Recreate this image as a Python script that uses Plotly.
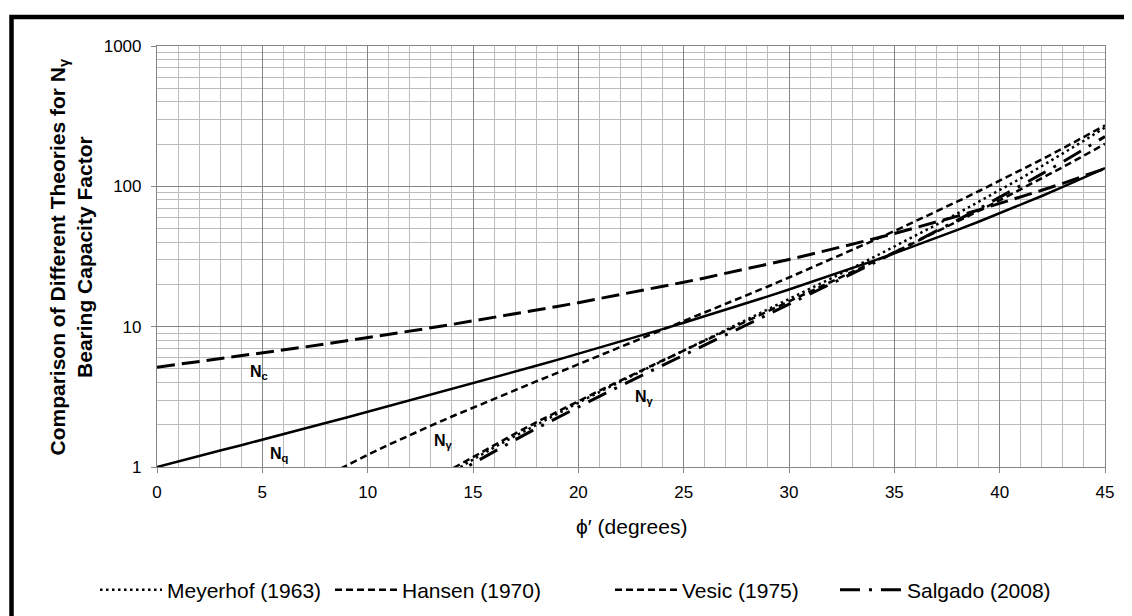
import plotly.graph_objects as go

# friction angle (degrees)
phi = list(range(0, 46))

# bearing capacity factors
Nc = [5.14, 5.38, 5.63, 5.90, 6.19, 6.49, 6.81, 7.16, 7.53, 7.92,
      8.35, 8.80, 9.28, 9.81, 10.37, 10.98, 11.63, 12.34, 13.10, 13.93,
      14.83, 15.82, 16.88, 18.05, 19.32, 20.72, 22.25, 23.94, 25.80, 27.86,
      30.14, 32.67, 35.49, 38.64, 42.16, 46.12, 50.59, 55.63, 61.35, 67.87,
      75.31, 83.86, 93.71, 105.11, 118.37, 133.88]
Nq = [1.00, 1.09, 1.20, 1.31, 1.43, 1.57, 1.72, 1.88, 2.06, 2.25,
      2.47, 2.71, 2.97, 3.26, 3.59, 3.94, 4.34, 4.77, 5.26, 5.80,
      6.40, 7.07, 7.82, 8.66, 9.60, 10.66, 11.85, 13.20, 14.72, 16.44,
      18.40, 20.63, 23.18, 26.09, 29.44, 33.30, 37.75, 42.92, 48.93, 55.96,
      64.20, 73.90, 85.38, 99.02, 115.31, 134.88]

phi_meyerhof = list(range(12, 46))
Ng_meyerhof = [0.59, 0.74, 0.92, 1.13, 1.38, 1.66, 2.00, 2.40, 2.87, 3.42,
               4.07, 4.82, 5.71, 6.76, 8.00, 9.46, 11.19, 13.23, 15.67, 18.56,
               22.02, 26.16, 31.15, 37.16, 44.42, 53.27, 64.07, 77.33, 93.70, 114.0,
               139.3, 171.2, 211.4, 262.7]

phi_hansen = list(range(11, 46))
Ng_hansen = [0.50, 0.63, 0.78, 0.97, 1.18, 1.43, 1.73, 2.08, 2.48, 2.95,
             3.50, 4.13, 4.88, 5.74, 6.76, 7.94, 9.32, 10.94, 12.84, 15.07,
             17.69, 20.79, 24.44, 28.77, 33.92, 40.05, 47.38, 56.17, 66.76, 79.54,
             95.05, 113.96, 137.1, 165.6, 200.8]

phi_vesic = list(range(6, 46))
Ng_vesic = [0.57, 0.71, 0.86, 1.03, 1.22, 1.44, 1.69, 1.97, 2.29, 2.65,
            3.06, 3.53, 4.07, 4.68, 5.39, 6.20, 7.13, 8.20, 9.44, 10.88,
            12.54, 14.47, 16.72, 19.34, 22.40, 25.99, 30.22, 35.19, 41.06, 48.03,
            56.31, 66.19, 78.03, 92.25, 109.41, 130.22, 155.55, 186.54, 224.64, 271.76]

phi_salgado = list(range(12, 46))
Ng_salgado = [0.56, 0.70, 0.87, 1.06, 1.29, 1.56, 1.88, 2.25, 2.68, 3.19,
              3.79, 4.49, 5.31, 6.27, 7.41, 8.75, 10.32, 12.19, 14.40, 17.02,
              20.14, 23.86, 28.32, 33.68, 40.13, 47.96, 57.45, 69.07, 83.36, 100.8,
              122.6, 149.6, 183.5, 226.4]

FONT = "Liberation Sans, Arial, sans-serif"

# page offset of the figure (browser body margin)
OFF = 8
W, H = 1132, 616
L, T = 157 - OFF, 46 - OFF
R = W - (1105 - OFF)
B = H - (467 - OFF)
pw, ph = W - L - R, H - T - B


def px_x(p):
    return (p - OFF - L) / pw


def px_y(p):
    return (H - B - (p - OFF)) / ph


fig = go.Figure()
fig.add_trace(go.Scatter(x=phi, y=Nc, mode="lines", showlegend=False,
                         line=dict(color="black", width=3, dash="18px,7px")))
fig.add_trace(go.Scatter(x=phi, y=Nq, mode="lines", showlegend=False,
                         line=dict(color="black", width=2.5)))
fig.add_trace(go.Scatter(x=phi_meyerhof, y=Ng_meyerhof, mode="lines", name="Meyerhof (1963)",
                         legend="legend",
                         line=dict(color="black", width=2.5, dash="2.5px,3.5px")))
fig.add_trace(go.Scatter(x=phi_hansen, y=Ng_hansen, mode="lines", name="Hansen (1970)",
                         legend="legend2",
                         line=dict(color="black", width=2.5, dash="7px,4px")))
fig.add_trace(go.Scatter(x=phi_vesic, y=Ng_vesic, mode="lines", name="Vesic (1975)",
                         legend="legend3",
                         line=dict(color="black", width=2.5, dash="7px,4px")))
fig.add_trace(go.Scatter(x=phi_salgado, y=Ng_salgado, mode="lines", name="Salgado (2008)",
                         legend="legend4",
                         line=dict(color="black", width=3, dash="20px,9px,3px,9px")))

ann_font = dict(family=FONT, size=16, color="black")
annotations = [
    dict(x=4.3, y=0.673, xref="x", yref="y", text="<b>N<sub>c</sub></b>", showarrow=False,
         xanchor="left", yanchor="middle", font=ann_font),
    dict(x=5.25, y=0.088, xref="x", yref="y", text="<b>N<sub>q</sub></b>", showarrow=False,
         xanchor="left", yanchor="middle", font=ann_font),
    dict(x=13.05, y=0.185, xref="x", yref="y", text="<b>N<sub>γ</sub></b>", showarrow=False,
         xanchor="left", yanchor="middle", font=ann_font),
    dict(x=22.6, y=0.492, xref="x", yref="y", text="<b>N<sub>γ</sub></b>", showarrow=False,
         xanchor="left", yanchor="middle", font=ann_font),
    dict(x=0.5, y=px_y(526), xref="paper", yref="paper", text="ϕ′ (degrees)", showarrow=False,
         xanchor="center", yanchor="middle", font=dict(family=FONT, size=21, color="black")),
    dict(x=px_x(70), y=0.5, xref="paper", yref="paper",
         text="<b>Comparison of Different Theories for N<sub>γ</sub><br>Bearing Capacity Factor</b>",
         showarrow=False, textangle=-90, xanchor="center", yanchor="middle",
         font=dict(family=FONT, size=21, color="black")),
]


def leg(page_x):
    return dict(orientation="h", x=px_x(page_x), xanchor="left", y=px_y(590), yanchor="middle",
                font=dict(family=FONT, size=21, color="black"), itemwidth=62,
                bgcolor="rgba(0,0,0,0)", borderwidth=0)


fig.update_layout(
    width=W, height=H,
    margin=dict(l=L, r=R, t=T, b=B, autoexpand=False),
    paper_bgcolor="white", plot_bgcolor="white",
    font=dict(family=FONT, size=17, color="black"),
    annotations=annotations,
    legend=leg(95), legend2=leg(330), legend3=leg(610), legend4=leg(835),
    shapes=[dict(type="rect", xref="paper", yref="paper",
                 x0=px_x(11.5), x1=px_x(1150), y0=px_y(650), y1=px_y(17),
                 line=dict(color="black", width=4.5), layer="above")],
)

fig.update_xaxes(range=[0, 45], dtick=5, tick0=0, showgrid=True, gridcolor="#858585", gridwidth=1.2,
                 minor=dict(dtick=1, showgrid=True, gridcolor="#bcbcbc", gridwidth=1.3),
                 showline=True, linecolor="#858585", linewidth=1.2, mirror=True,
                 ticks="outside", ticklen=5, tickcolor="#858585", ticklabelstandoff=4,
                 zeroline=False, tickfont=dict(size=17))
fig.update_yaxes(type="log", range=[0, 3], dtick=1, showgrid=True, gridcolor="#858585", gridwidth=1.2,
                 minor=dict(dtick="D1", showgrid=True, gridcolor="#bcbcbc", gridwidth=1.3),
                 showline=True, linecolor="#858585", linewidth=1.2, mirror=True,
                 ticks="outside", ticklen=5, tickcolor="#858585", ticklabelstandoff=6,
                 zeroline=False, tickfont=dict(size=17))

fig.write_html("out.html")
